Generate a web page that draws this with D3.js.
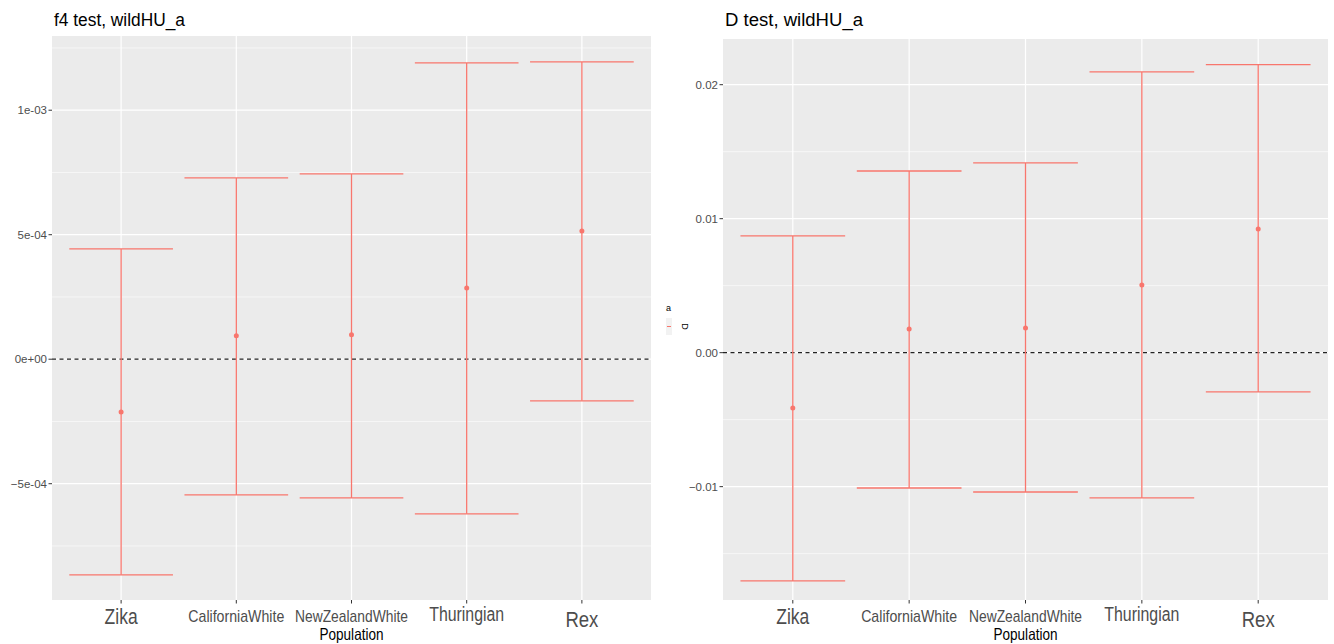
<!DOCTYPE html>
<html>
<head>
<meta charset="utf-8">
<script src="https://cdn.jsdelivr.net/npm/d3@7/dist/d3.min.js"></script>
<style>
  html, body { margin: 0; padding: 0; background: #ffffff; }
  svg { display: block; font-family: "Liberation Sans", Arial, Helvetica, sans-serif; }
  .narrow { font-family: "Liberation Sans Narrow", "Arial Narrow", "Liberation Sans", sans-serif; }
</style>
</head>
<body>
<svg id="chart" width="1334" height="644"></svg>
<script>
// ---- data ----
const populations = ["Zika", "CaliforniaWhite", "NewZealandWhite", "Thuringian", "Rex"];

// f4 statistic: estimate with lower / upper bounds
const f4Estimate = [-2.12e-4, 0.94e-4, 0.98e-4, 2.86e-4, 5.15e-4];
const f4Lower    = [-8.66e-4, -5.45e-4, -5.57e-4, -6.21e-4, -1.67e-4];
const f4Upper    = [4.43e-4, 7.28e-4, 7.44e-4, 1.19e-3, 1.194e-3];
const f4Limits   = [-9.67e-4, 1.298e-3];
const f4Ticks      = [1e-3, 5e-4, 0, -5e-4];
const f4TickLabels = ["1e-03", "5e-04", "0e+00", "\u22125e-04"];

// D statistic: estimate with lower / upper bounds
const dEstimate = [-0.00413, 0.00177, 0.00184, 0.00505, 0.00923];
const dLower    = [-0.01704, -0.0101, -0.0104, -0.01084, -0.00293];
const dUpper    = [0.00871, 0.01356, 0.01416, 0.02095, 0.0215];
const dLimits   = [-0.01846, 0.02341];
const dTicks      = [0.02, 0.01, 0, -0.01];
const dTickLabels = ["0.02", "0.01", "0.00", "\u22120.01"];

const panelTitles = ["f4 test, wildHU_a", "D test, wildHU_a"];
const xAxisTitle = "Population";
const legendTitle = "a";
const legendLabel = "D";

// ---- styling ----
const errColor = "#F8766D";
const panelFill = "#EBEBEB";
const tickTextColor = "#4D4D4D";
// per-label font size and rendered width (category text uses a narrow face)
const catLabelStyle = {
  Zika:            { size: 22,   width: 33,  base: 624 },
  CaliforniaWhite: { size: 17,   width: 96,  base: 622 },
  NewZealandWhite: { size: 17,   width: 113, base: 622 },
  Thuringian:      { size: 19.5, width: 75,  base: 621 },
  Rex:             { size: 22,   width: 33,  base: 627 }
};

const svg = d3.select("#chart");

function drawPanel(opt) {
  const g = svg.append("g");
  // ggplot-like discrete axis: 0.6 units of padding on each side
  const x = d3.scalePoint()
    .domain(populations)
    .range([opt.left, opt.right])
    .padding(0.6);
  const unit = x.step();
  const xc = d => x(d);

  const y = d3.scaleLinear().domain(opt.limits).range([opt.bottom, opt.top]);

  // panel background
  g.append("rect")
    .attr("x", opt.left).attr("y", opt.top)
    .attr("width", opt.right - opt.left).attr("height", opt.bottom - opt.top)
    .attr("fill", panelFill);

  // minor gridlines halfway between major ticks
  const sorted = opt.ticks.slice().sort((a, b) => a - b);
  const step = sorted[1] - sorted[0];
  const minors = [];
  for (let v = sorted[0] - step / 2; v <= opt.limits[1]; v += step) {
    if (v >= opt.limits[0]) minors.push(v);
  }
  g.selectAll(".minor").data(minors).enter().append("line")
    .attr("x1", opt.left).attr("x2", opt.right)
    .attr("y1", d => y(d)).attr("y2", d => y(d))
    .attr("stroke", "#ffffff").attr("stroke-width", 0.6);

  // major horizontal gridlines
  g.selectAll(".major").data(opt.ticks).enter().append("line")
    .attr("x1", opt.left).attr("x2", opt.right)
    .attr("y1", d => y(d)).attr("y2", d => y(d))
    .attr("stroke", "#ffffff").attr("stroke-width", 1.2);

  // vertical gridlines at categories
  g.selectAll(".vgrid").data(populations).enter().append("line")
    .attr("x1", d => xc(d)).attr("x2", d => xc(d))
    .attr("y1", opt.top).attr("y2", opt.bottom)
    .attr("stroke", "#ffffff").attr("stroke-width", 1.2);

  // y axis ticks and labels
  g.selectAll(".ytick").data(opt.ticks).enter().append("line")
    .attr("x1", opt.left - 3.5).attr("x2", opt.left)
    .attr("y1", d => y(d)).attr("y2", d => y(d))
    .attr("stroke", "#333333").attr("stroke-width", 1);
  g.selectAll(".ylab").data(opt.ticks).enter().append("text")
    .attr("x", opt.left - 5)
    .attr("y", d => y(d))
    .attr("dy", "0.36em")
    .attr("text-anchor", "end")
    .attr("font-size", 11.5)
    .attr("fill", tickTextColor)
    .text((d, i) => opt.tickLabels[i]);

  // x axis ticks and labels
  g.selectAll(".xtick").data(populations).enter().append("line")
    .attr("x1", d => xc(d)).attr("x2", d => xc(d))
    .attr("y1", opt.bottom).attr("y2", opt.bottom + 3.5)
    .attr("stroke", "#333333").attr("stroke-width", 1);
  g.selectAll(".xlab").data(populations).enter().append("text")
    .attr("class", "narrow")
    .attr("x", d => xc(d))
    .attr("y", d => catLabelStyle[d].base)
    .attr("text-anchor", "middle")
    .attr("font-size", d => catLabelStyle[d].size)
    .attr("textLength", d => catLabelStyle[d].width)
    .attr("lengthAdjust", "spacingAndGlyphs")
    .attr("fill", tickTextColor)
    .text(d => d);

  // x axis title
  g.append("text")
    .attr("class", "narrow")
    .attr("x", (opt.left + opt.right) / 2)
    .attr("y", 640)
    .attr("text-anchor", "middle")
    .attr("font-size", 16.5)
    .attr("textLength", 64)
    .attr("lengthAdjust", "spacingAndGlyphs")
    .attr("fill", "#000000")
    .text(xAxisTitle);

  // panel title
  g.append("text")
    .attr("x", opt.left + 2)
    .attr("y", 26)
    .attr("font-size", 17.5)
    .attr("textLength", opt.titleWidth)
    .attr("lengthAdjust", "spacingAndGlyphs")
    .attr("fill", "#000000")
    .text(opt.title);

  // zero reference line
  g.append("line")
    .attr("x1", opt.left).attr("x2", opt.right)
    .attr("y1", y(0)).attr("y2", y(0))
    .attr("stroke", "#222222").attr("stroke-width", 1.3)
    .attr("stroke-dasharray", "4,3.5");

  // error bars with mean point
  const halfW = unit * 0.45;
  const rows = populations.map((p, i) => ({
    p, est: opt.est[i], lo: opt.lo[i], hi: opt.hi[i]
  }));
  const eb = g.selectAll(".eb").data(rows).enter().append("g");
  eb.append("line")
    .attr("x1", d => xc(d.p)).attr("x2", d => xc(d.p))
    .attr("y1", d => y(d.lo)).attr("y2", d => y(d.hi))
    .attr("stroke", errColor).attr("stroke-width", 1.3);
  eb.append("line")
    .attr("x1", d => xc(d.p) - halfW).attr("x2", d => xc(d.p) + halfW)
    .attr("y1", d => y(d.hi)).attr("y2", d => y(d.hi))
    .attr("stroke", errColor).attr("stroke-width", 1.3);
  eb.append("line")
    .attr("x1", d => xc(d.p) - halfW).attr("x2", d => xc(d.p) + halfW)
    .attr("y1", d => y(d.lo)).attr("y2", d => y(d.lo))
    .attr("stroke", errColor).attr("stroke-width", 1.3);
  eb.append("circle")
    .attr("cx", d => xc(d.p)).attr("cy", d => y(d.est))
    .attr("r", 2.5)
    .attr("fill", errColor);
}

drawPanel({
  left: 52, right: 651, top: 36, bottom: 600,
  limits: f4Limits, ticks: f4Ticks, tickLabels: f4TickLabels,
  est: f4Estimate, lo: f4Lower, hi: f4Upper,
  title: panelTitles[0], titleWidth: 131
});

drawPanel({
  left: 723, right: 1328, top: 39, bottom: 600,
  limits: dLimits, ticks: dTicks, tickLabels: dTickLabels,
  est: dEstimate, lo: dLower, hi: dUpper,
  title: panelTitles[1], titleWidth: 138
});

// small legend squeezed between the panels
const lg = svg.append("g");
lg.append("text")
  .attr("x", 666).attr("y", 311)
  .attr("font-size", 9).attr("fill", "#000000")
  .text(legendTitle);
lg.append("rect")
  .attr("x", 666).attr("y", 318).attr("width", 6).attr("height", 17)
  .attr("fill", "#F2F2F2");
lg.append("line")
  .attr("x1", 667).attr("x2", 671).attr("y1", 326.5).attr("y2", 326.5)
  .attr("stroke", errColor).attr("stroke-width", 1);
lg.append("text")
  .attr("transform", "translate(682,326.5) rotate(90)")
  .attr("text-anchor", "middle")
  .attr("font-size", 9).attr("fill", "#000000")
  .text(legendLabel);
</script>
</body>
</html>
